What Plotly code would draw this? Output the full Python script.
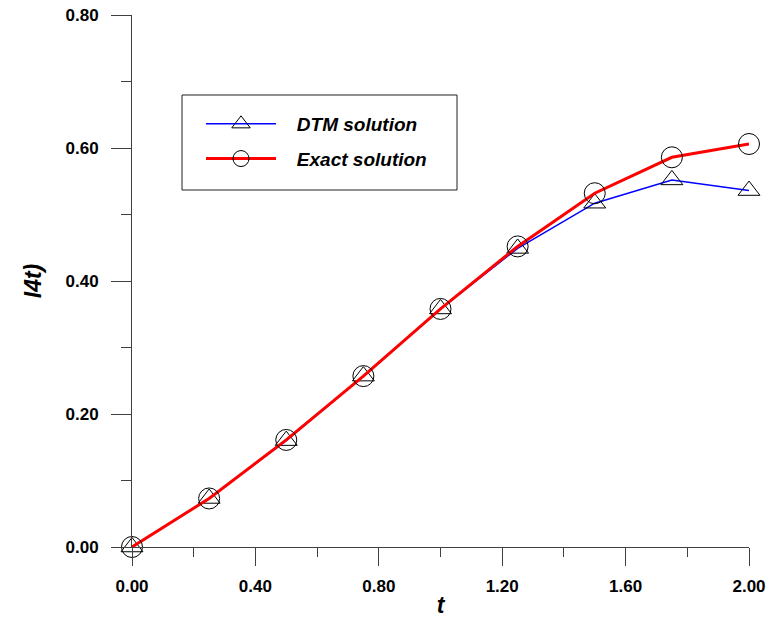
import plotly.graph_objects as go

# time samples and the two solution curves
t = [0.00, 0.25, 0.50, 0.75, 1.00, 1.25, 1.50, 1.75, 2.00]
dtm_solution = [0.000, 0.073, 0.160, 0.257, 0.358, 0.449, 0.517, 0.552, 0.536]
exact_solution = [0.000, 0.073, 0.161, 0.257, 0.358, 0.452, 0.532, 0.586, 0.606]

x_ticks = [0.0, 0.4, 0.8, 1.2, 1.6, 2.0]
x_tick_labels = ["0.00", "0.40", "0.80", "1.20", "1.60", "2.00"]
y_ticks = [0.0, 0.2, 0.4, 0.6, 0.8]
y_tick_labels = ["0.00", "0.20", "0.40", "0.60", "0.80"]

FONT = "Arial, 'Liberation Sans', sans-serif"
AXIS_COLOR = "#404040"
PAD = "\u00a0\u00a0\u00a0"

fig = go.Figure()

fig.add_trace(go.Scatter(
    x=t, y=dtm_solution, name=PAD + "<b><i>DTM solution</i></b>",
    mode="lines+markers", legendgroup="dtm",
    line=dict(color="#0000ff", width=1.5),
    marker=dict(symbol="triangle-up-open", size=19, color="black",
                line=dict(width=1, color="black")),
    cliponaxis=False,
))
fig.add_trace(go.Scatter(
    x=t, y=exact_solution, name=PAD + "<b><i>Exact solution</i></b>",
    mode="lines+markers", legendgroup="exact",
    line=dict(color="#ff0000", width=3),
    marker=dict(symbol="circle-open", size=21, color="black",
                line=dict(width=1, color="black")),
    cliponaxis=False,
))

# legend frame
fig.add_shape(type="rect", xref="paper", yref="paper",
              x0=(182 - 132) / 617, x1=(457 - 132) / 617,
              y0=(547 - 190) / 532, y1=(547 - 95) / 532,
              line=dict(color="#202020", width=1), fillcolor="rgba(0,0,0,0)", layer="above")

fig.update_layout(
    width=768, height=618,
    margin=dict(l=132, r=19, t=15, b=71),
    paper_bgcolor="white", plot_bgcolor="white",
    font=dict(family=FONT, color="black"),
    legend=dict(
        x=(201 - 132) / 617, y=(547 - 105) / 532, xanchor="left", yanchor="top",
        bgcolor="rgba(255,255,255,0)", borderwidth=0,
        font=dict(size=19, family=FONT, color="black"),
        itemwidth=70, tracegroupgap=7, traceorder="grouped",
    ),
    showlegend=True,
)

fig.update_xaxes(
    range=[0, 2], tickmode="array", tickvals=x_ticks, ticktext=x_tick_labels,
    automargin=False,
    showgrid=False, zeroline=False, showline=True, linecolor=AXIS_COLOR, linewidth=1,
    ticks="outside", ticklen=18, tickcolor=AXIS_COLOR, tickwidth=1,
    ticklabelstandoff=6,
    tickfont=dict(size=17, family=FONT, color="black", weight="bold"),
    minor=dict(dtick=0.2, tick0=0, ticks="outside", ticklen=9, tickcolor=AXIS_COLOR, showgrid=False),
    title=dict(text="<b><i>t</i></b>", font=dict(size=23, family=FONT, color="black"), standoff=6),
)
fig.update_yaxes(
    range=[0, 0.8], tickmode="array", tickvals=y_ticks, ticktext=y_tick_labels,
    automargin=False,
    showgrid=False, zeroline=False, showline=True, linecolor=AXIS_COLOR, linewidth=1,
    ticks="outside", ticklen=20, tickcolor=AXIS_COLOR, tickwidth=1,
    ticklabelstandoff=9,
    tickfont=dict(size=17, family=FONT, color="black", weight="bold"),
    minor=dict(dtick=0.1, tick0=0, ticks="outside", ticklen=10, tickcolor=AXIS_COLOR, showgrid=False),
    title=dict(text="<b><i>I4t)</i></b>", font=dict(size=23, family=FONT, color="black"), standoff=17),
)

fig.write_html("out.html")
